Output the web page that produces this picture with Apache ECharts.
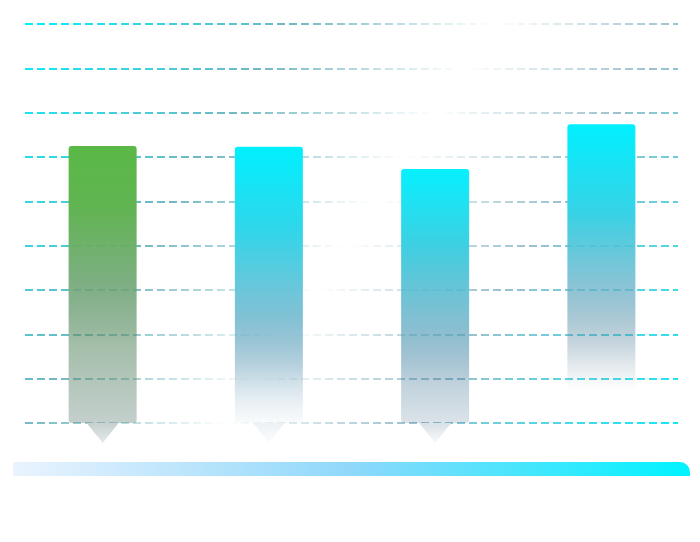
<!DOCTYPE html>
<html>
<head>
<meta charset="utf-8">
<script src="https://cdn.jsdelivr.net/npm/echarts@6/dist/echarts.min.js"></script>
<style>html,body{margin:0;padding:0;background:#fff;}#c{width:700px;height:542px;}</style>
</head>
<body>
<div id="c"></div>
<script>
// ---- data ----
const categories = ['一', '二', '三', '四'];
const values = [62.5, 62.3, 57.3, 67.4];
const yMin = 0;
const yMax = 90;
const yInterval = 10;

// ---- styles ----
function vgrad(stops) {
  return { type: 'linear', x: 0, y: 0, x2: 0, y2: 1,
    colorStops: stops.map(s => ({ offset: s[0], color: s[1] })) };
}
const barColors = [
  vgrad([[0, '#5ab946'], [0.22, '#60b451'], [0.5, 'rgba(112,166,118,0.9)'], [0.72, 'rgba(88,137,99,0.55)'], [1, 'rgba(105,135,125,0.4)']]),
  vgrad([[0, '#00f0ff'], [0.3, '#30d6ea'], [0.55, 'rgba(100,190,212,0.9)'], [0.8, 'rgba(58,129,164,0.35)'], [1, 'rgba(150,180,200,0.06)']]),
  vgrad([[0, '#06f0ff'], [0.3, '#3dd0e2'], [0.6, 'rgba(91,170,195,0.75)'], [0.85, 'rgba(52,108,142,0.3)'], [1, 'rgba(55,100,133,0.18)']]),
  vgrad([[0, '#00f0ff'], [0.3, '#38d2e6'], [0.55, 'rgba(102,176,198,0.75)'], [0.75, 'rgba(85,128,152,0.3)'], [0.85, 'rgba(120,150,170,0.1)'], [0.9, 'rgba(255,255,255,0)'], [1, 'rgba(255,255,255,0)']])
];
const triColors = [
  vgrad([[0, '#c5d1cf'], [1, '#e6eaea']]),
  vgrad([[0, '#eef2f5'], [1, '#fbfcfd']]),
  vgrad([[0, '#d8e0e6'], [1, '#f8fafb']]),
  vgrad([[0, 'rgba(255,255,255,0)'], [1, 'rgba(255,255,255,0)']])
];
const splitGrad = {
  type: 'linear', global: true, x: 25, y: 24, x2: 659.6, y2: 450.6,
  colorStops: [
    { offset: 0, color: '#00f0ff' },
    { offset: 0.29, color: '#72b8c2' },
    { offset: 0.51, color: '#ffffff' },
    { offset: 0.71, color: '#9cc1ce' },
    { offset: 1, color: '#10e8f8' }
  ]
};

const chart = echarts.init(document.getElementById('c'), null, { renderer: 'canvas' });
chart.setOption({
  animation: false,
  backgroundColor: '#ffffff',
  grid: [
    { left: 25, right: 22, top: 24, bottom: 119 },
    { left: 19.5, right: 15.5, top: 24, bottom: 119 }
  ],
  xAxis: [
    { type: 'category', gridIndex: 0, data: categories, show: false },
    { type: 'category', gridIndex: 1, data: categories, show: false }
  ],
  yAxis: [
    { type: 'value', gridIndex: 0, min: yMin, max: yMax, interval: yInterval, z: 1,
      axisLine: { show: false }, axisTick: { show: false }, axisLabel: { show: false },
      splitLine: { show: true, lineStyle: { type: 'dashed', width: 2, color: splitGrad } } },
    { type: 'value', gridIndex: 1, min: yMin, max: yMax, interval: yInterval,
      axisLine: { show: false }, axisTick: { show: false }, axisLabel: { show: false },
      splitLine: { show: false } }
  ],
  graphic: [{
    type: 'rect', z: 1,
    shape: { x: 13, y: 462, width: 677, height: 14, r: [0, 10, 0, 0] },
    style: { fill: { type: 'linear', x: 0, y: 0, x2: 1, y2: 0,
      colorStops: [
        { offset: 0, color: '#eaf3fe' },
        { offset: 0.5, color: '#8fd8fb' },
        { offset: 1, color: '#00f3ff' }
      ] } }
  }],
  series: [
    {
      type: 'bar', xAxisIndex: 1, yAxisIndex: 1, barWidth: 68, z: 2,
      data: values.map((v, i) => ({ value: v, itemStyle: { color: barColors[i], borderRadius: 3 } }))
    },
    {
      type: 'pictorialBar', xAxisIndex: 1, yAxisIndex: 1, z: 2,
      symbol: 'path://M0,0 L32,0 L16,20 Z',
      symbolSize: [32, 20],
      symbolPosition: 'start',
      symbolOffset: [0, '100%'],
      data: values.map((v, i) => ({ value: v, itemStyle: { color: triColors[i] } }))
    }
  ]
});
</script>
</body>
</html>
